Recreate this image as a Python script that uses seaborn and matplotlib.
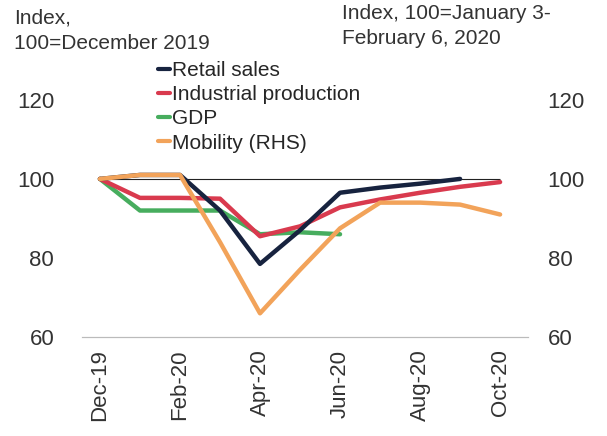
import pandas as pd
import matplotlib.pyplot as plt
import seaborn as sns

# Monthly indices
months = ['Dec-19', 'Jan-20', 'Feb-20', 'Mar-20', 'Apr-20', 'May-20',
          'Jun-20', 'Jul-20', 'Aug-20', 'Sep-20', 'Oct-20']
retail = [100, 101, 101, 92, 78.5, 87, 96.5, 97.8, 98.8, 100, None]
industrial = [100, 95.2, 95.2, 95, 85.5, 88, 92.8, 94.8, 96.5, 98, 99.2]
gdp = [100, 92, 92, 92, 86, 86.5, 86, None, None, None, None]
mobility = [100, 101, 101, 84, 66, 77, 87.5, 94, 94, 93.5, 91]

df = pd.DataFrame({'month': months, 'Retail sales': retail,
                   'Industrial production': industrial, 'GDP': gdp,
                   'Mobility (RHS)': mobility})

sns.set_style('white')
plt.rcParams['font.family'] = ['Liberation Sans', 'DejaVu Sans']

fig = plt.figure(figsize=(6.07, 4.36), dpi=100)
ax = fig.add_axes([0.135, 0.227, 0.735, 0.544])
ax2 = ax.twinx()

colors = {'Retail sales': '#17233f', 'Industrial production': '#d93a4e',
          'GDP': '#47ad5e', 'Mobility (RHS)': '#f2a35a'}

for col in ['GDP', 'Industrial production', 'Retail sales']:
    sns.lineplot(data=df, x='month', y=col, ax=ax, color=colors[col],
                 lw=3.2, sort=False, legend=False)
sns.lineplot(data=df, x='month', y='Mobility (RHS)', ax=ax2,
             color=colors['Mobility (RHS)'], lw=3.2, sort=False, legend=False)
# thin reference line at 100
ax.hlines(100, months[0], months[-1], color='#222222', lw=0.8, zorder=1)

for a in (ax, ax2):
    a.set_ylim(60, 120)
    a.set_yticks([60, 80, 100, 120])
    a.set_xlabel('')
    a.set_ylabel('')
    for s in a.spines.values():
        s.set_visible(False)
    a.spines['bottom'].set_visible(True)
    a.spines['bottom'].set_color('#bbbbbb')
    a.tick_params(length=0, labelsize=16)
ax.set_xlim(-0.45, 10.7)
ax.set_xticks(months[::2])
ax.tick_params(axis='x', rotation=90, pad=9)
ax.tick_params(axis='y', pad=20, colors='#333333')
ax2.tick_params(axis='y', pad=14, colors='#333333')
ax.tick_params(axis='x', colors='#333333')

# legend
handles = [plt.Line2D([], [], color=colors[k], lw=3) for k in colors]
fig.legend(handles, list(colors), loc='upper left', bbox_to_anchor=(0.26, 0.86),
           frameon=False, fontsize=15, handlelength=0.6, handletextpad=0.1,
           labelspacing=0.25, borderpad=0, borderaxespad=0)

fig.text(0.023, 0.98, 'Index,\n100=December 2019', fontsize=15, va='top',
         ha='left', color='#333333', linespacing=1.4)
fig.text(0.563, 0.99, 'Index, 100=January 3-\nFebruary 6, 2020', fontsize=15,
         va='top', ha='left', color='#333333', linespacing=1.4)

fig.savefig('out.png', dpi=100)
